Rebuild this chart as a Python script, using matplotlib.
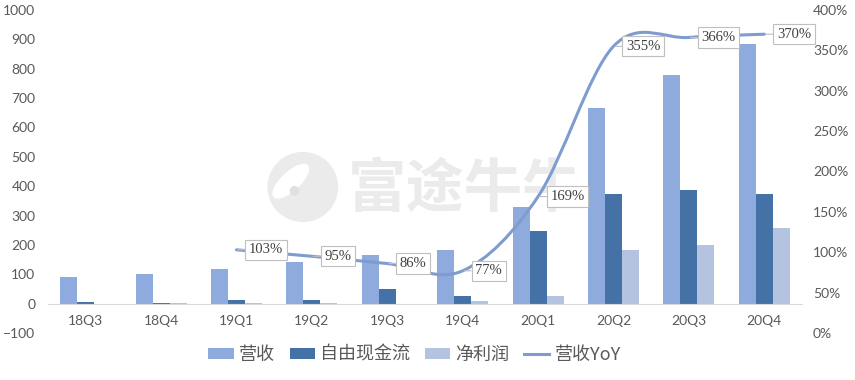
import numpy as np
import matplotlib.pyplot as plt
from matplotlib.path import Path
from matplotlib.patches import PathPatch, Ellipse

plt.rcParams['font.family'] = ['Lato', 'Noto Sans CJK SC', 'DejaVu Sans']

quarters = ['18Q3', '18Q4', '19Q1', '19Q2', '19Q3', '19Q4', '20Q1', '20Q2', '20Q3', '20Q4']
revenue = [90, 102, 119, 143, 164, 184, 328, 665, 778, 884]
free_cf = [7, 3, 14, 14, 51, 25, 249, 372, 386, 375]
net_income = [-5, 3, 1, 3, -1, 10, 25, 184, 198, 259]
# YoY starts at 19Q1
yoy_quarters = ['19Q1', '19Q2', '19Q3', '19Q4', '20Q1', '20Q2', '20Q3', '20Q4']
yoy = [1.03, 0.95, 0.86, 0.77, 1.69, 3.55, 3.66, 3.70]
yoy_labels = ['103%', '95%', '86%', '77%', '169%', '355%', '366%', '370%']

c_rev = '#8FAADC'
c_fcf = '#4472A7'
c_ni = '#B4C4E0'
c_line = '#7E9CCF'
gray = '#595959'

fig = plt.figure(figsize=(8.55, 3.8), dpi=100)
ax = fig.add_axes([0.0561, 0.1237, 0.8819, 0.85])
ax2 = ax.twinx()

x = np.arange(len(quarters))
w = 0.225
ax.bar(x - w, revenue, w, color=c_rev, label='营收', zorder=2)
ax.bar(x, free_cf, w, color=c_fcf, label='自由现金流', zorder=2)
ax.bar(x + w, net_income, w, color=c_ni, label='净利润', zorder=2)

ax.set_xlim(-0.5, len(quarters) - 0.5)
ax.set_ylim(-100, 1000)
ax.set_yticks(range(-100, 1001, 100))
ax.set_xticks(x)
ax.set_xticklabels(quarters)
for s in ['top', 'right', 'left']:
    ax.spines[s].set_visible(False)
ax.spines['bottom'].set_position(('data', 0))
ax.spines['bottom'].set_color('#D9D9D9')
ax.tick_params(axis='x', length=0, pad=8, labelsize=10, labelcolor=gray)
ax.tick_params(axis='y', length=0, pad=9, labelsize=10, labelcolor=gray)

# watermark
ax.text(0.552, 0.444, '富途牛牛', transform=ax.transAxes, ha='center', va='center',
        fontsize=42, fontweight='bold', color='#EBEBEB', family='Noto Sans CJK SC', zorder=0.5)
ax.add_patch(Ellipse((0.338, 0.452), 0.092, 0.213, transform=ax.transAxes,
                     color='#EBEBEB', zorder=0.5))
ax.add_patch(Ellipse((0.322, 0.47), 0.03, 0.11, angle=-20, transform=ax.transAxes,
                     color='white', zorder=0.6))
ax.add_patch(Ellipse((0.327, 0.44), 0.011, 0.026, transform=ax.transAxes,
                     color='#E0E0E0', zorder=0.7))

# smoothed YoY line (bezier through the points)
xi = np.array([quarters.index(q) for q in yoy_quarters], dtype=float)
yi = np.array(yoy)
pts = np.column_stack([xi, yi])
verts = [pts[0]]
codes = [Path.MOVETO]
n = len(pts)
for i in range(n - 1):
    p0 = pts[max(i - 1, 0)]
    p1 = pts[i]
    p2 = pts[i + 1]
    p3 = pts[min(i + 2, n - 1)]
    verts += [p1 + (p2 - p0) / 6, p2 - (p3 - p1) / 6, p2]
    codes += [Path.CURVE4] * 3
ax2.add_patch(PathPatch(Path(verts, codes), fill=False, edgecolor=c_line, lw=2.2,
                        capstyle='round', zorder=3))
ax2.plot([], [], color=c_line, lw=2.2, label='营收YoY')

for xv, yv, lab in zip(xi, yi, yoy_labels):
    ax2.annotate(lab, (xv, yv), xytext=(9, 0), textcoords='offset points',
                 ha='left', va='center', fontsize=10.5, color='#404040',
                 family='Liberation Serif', zorder=4,
                 bbox=dict(boxstyle='square,pad=0.25', fc='white', ec='#BFBFBF', lw=0.8),
                 arrowprops=dict(arrowstyle='-', color='#BFBFBF', lw=0.8,
                                 shrinkA=0, shrinkB=1))

ax2.set_ylim(0, 4)
ax2.set_yticks(np.arange(0, 4.01, 0.5))
ax2.set_yticklabels(['{:.0f}%'.format(v * 100) for v in np.arange(0, 4.01, 0.5)])
for s in ax2.spines.values():
    s.set_visible(False)
ax2.tick_params(axis='y', length=0, pad=8, labelsize=10, labelcolor=gray)

h1, l1 = ax.get_legend_handles_labels()
h2, l2 = ax2.get_legend_handles_labels()
leg = fig.legend(h1 + h2, l1 + l2, loc='center', bbox_to_anchor=(0.485, 0.066), ncol=4,
                 frameon=False, prop={'family': 'Noto Sans CJK SC', 'size': 13},
                 handlelength=1.4, handleheight=0.5, handletextpad=0.3, columnspacing=0.8)
for t in leg.get_texts():
    t.set_color(gray)

fig.savefig('out.png', dpi=100)
